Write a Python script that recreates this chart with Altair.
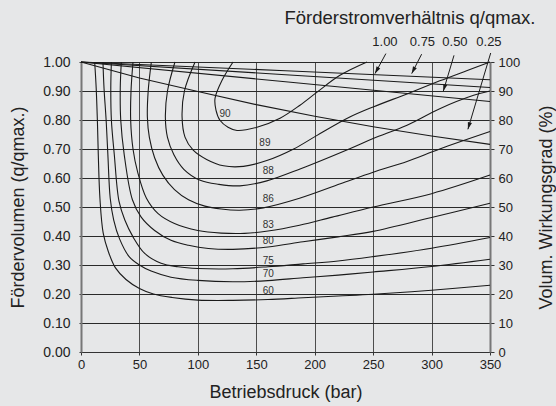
import math
import altair as alt
import pandas as pd

FONT = "Liberation Sans"
INK = "#1a1a1a"
BG = "#e6e7e8"
W, H = 409, 290

# Iso-efficiency contours (total efficiency in %): pressure in bar, flow as q/qmax
eta60_p = [11.7, 13.0, 14.0, 14.8, 16.2, 19.0, 23.5, 29.5, 38.5, 50.0, 62.0, 78.0, 100, 130, 160, 190, 220, 250, 300, 350]
eta60_q = [1.0, 0.91, 0.80, 0.68, 0.53, 0.41, 0.345, 0.29, 0.25, 0.219, 0.20, 0.188, 0.179, 0.178, 0.181, 0.187, 0.193, 0.199, 0.213, 0.23]

eta70_p = [18.8, 19.7, 21.5, 23.0, 25.0, 28.0, 33.0, 41.0, 50.0, 60.0, 77.0, 100, 130, 160, 190, 220, 250, 300, 350]
eta70_q = [1.0, 0.91, 0.80, 0.68, 0.53, 0.455, 0.39, 0.33, 0.30, 0.279, 0.258, 0.247, 0.242, 0.246, 0.256, 0.265, 0.276, 0.295, 0.32]

eta75_p = [26.0, 25.5, 26.0, 28.5, 32.5, 37.5, 44.5, 54.5, 68.5, 83.0, 100, 130, 160, 190, 220, 250, 300, 350]
eta75_q = [1.0, 0.91, 0.80, 0.68, 0.52, 0.455, 0.397, 0.34, 0.306, 0.294, 0.288, 0.287, 0.294, 0.304, 0.314, 0.329, 0.358, 0.395]

eta80_p = [34.5, 33.6, 34.0, 37.0, 44.0, 51.5, 63.0, 77.0, 92.0, 109, 130, 160, 190, 220, 250, 300, 350]
eta80_q = [1.0, 0.91, 0.80, 0.68, 0.525, 0.465, 0.419, 0.385, 0.368, 0.357, 0.354, 0.362, 0.38, 0.397, 0.416, 0.464, 0.513]

eta83_p = [44.5, 42.8, 42.5, 44.5, 48.5, 56.0, 66.0, 80.0, 100, 120, 140, 160, 187, 215, 250, 300, 350]
eta83_q = [1.0, 0.90, 0.80, 0.70, 0.62, 0.53, 0.477, 0.443, 0.419, 0.41, 0.409, 0.417, 0.437, 0.465, 0.50, 0.546, 0.61]

eta86_p = [60.2, 57.5, 56.8, 58.5, 63.0, 70.0, 80.0, 92.0, 106, 120, 136, 156, 187, 222, 250, 279, 307, 350]
eta86_q = [1.0, 0.90, 0.81, 0.74, 0.67, 0.61, 0.56, 0.525, 0.503, 0.493, 0.489, 0.497, 0.53, 0.58, 0.62, 0.657, 0.70, 0.76]

eta88_p = [80.4, 74.0, 72.2, 74.0, 79.5, 88.0, 102, 118, 136, 159, 188, 230, 250, 279, 307, 336, 350]
eta88_q = [1.0, 0.90, 0.81, 0.74, 0.68, 0.63, 0.592, 0.578, 0.573, 0.59, 0.632, 0.701, 0.736, 0.782, 0.839, 0.885, 0.90]

eta89_p = [97.6, 88.5, 86.5, 89.0, 96.0, 107.5, 122, 139, 159, 182, 202, 230, 250, 279, 307, 330, 350]
eta89_q = [1.0, 0.90, 0.81, 0.741, 0.696, 0.664, 0.642, 0.64, 0.66, 0.70, 0.747, 0.81, 0.845, 0.89, 0.935, 0.97, 1.0]

eta90_p = [130.1, 120.7, 114.7, 115.5, 118.9, 125.8, 133.5, 150.6, 170.3, 187.4, 202, 221.6, 244.7]
eta90_q = [1.0, 0.937, 0.875, 0.834, 0.799, 0.775, 0.764, 0.775, 0.806, 0.851, 0.896, 0.954, 1.0]

# Contour label anchors
label_text = ["90", "89", "88", "86", "83", "80", "75", "70", "60"]
label_p = [123.3, 157.4, 160.3, 160.3, 160.3, 160.3, 160.3, 160.3, 160.3]
label_q = [0.819, 0.719, 0.623, 0.526, 0.439, 0.383, 0.314, 0.268, 0.212]

# Volumetric efficiency (%) for each flow ratio q/qmax
vol_p = [0, 175, 350]
vol_100 = [100, 97.0, 93.9]
vol_075 = [100, 95.6, 91.2]
vol_050 = [100, 93.2, 86.4]
vol25_p = [0, 50, 100, 150, 200, 250, 300, 350]
vol_025 = [100, 94.5, 89.8, 85.3, 81.3, 77.7, 74.5, 71.6]

# Legend arrows pointing at the volumetric efficiency lines
arrow_label = ["1.00", "0.75", "0.50", "0.25"]
arrow_label_p = [260.1, 292.2, 320.0, 349.1]
arrow_label_q = [1.068, 1.068, 1.068, 1.068]
arrow_tail_p = [260.9, 291.5, 319.2, 350.6]
arrow_tail_q = [1.029, 1.027, 1.023, 1.031]
arrow_tip_p = [251.6, 283.0, 310.0, 331.1]
arrow_tip_q = [0.960, 0.960, 0.899, 0.768]

header_text = ["Förderstromverhältnis q/qmax."]
header_p = [281.5]
header_q = [1.151]

contours = [
    ("60", eta60_p, eta60_q), ("70", eta70_p, eta70_q), ("75", eta75_p, eta75_q),
    ("80", eta80_p, eta80_q), ("83", eta83_p, eta83_q), ("86", eta86_p, eta86_q),
    ("88", eta88_p, eta88_q), ("89", eta89_p, eta89_q), ("90", eta90_p, eta90_q),
]
rows = []
for level, ps, qs in contours:
    for i, (p, q) in enumerate(zip(ps, qs)):
        rows.append({"level": level, "i": i, "p": p, "q": q})
contour_df = pd.DataFrame(rows)

vol_rows = []
for name, ps, vs in [("1.00", vol_p, vol_100), ("0.75", vol_p, vol_075),
                     ("0.50", vol_p, vol_050), ("0.25", vol25_p, vol_025)]:
    for i, (p, v) in enumerate(zip(ps, vs)):
        vol_rows.append({"ratio": name, "i": i, "p": p, "eta": v})
vol_df = pd.DataFrame(vol_rows)

labels_df = pd.DataFrame({"p": label_p, "q": label_q, "t": label_text})
header_df = pd.DataFrame({"p": header_p, "q": header_q, "t": header_text})
arrow_text_df = pd.DataFrame({"p": arrow_label_p, "q": arrow_label_q, "t": arrow_label})

# arrowhead rotation from the shaft direction in screen space
kx, ky = W / 350.0, H / 1.0
angles = []
for tp, tq, hp, hq in zip(arrow_tail_p, arrow_tail_q, arrow_tip_p, arrow_tip_q):
    dx = (hp - tp) * kx
    dy = -(hq - tq) * ky
    angles.append(math.degrees(math.atan2(dx, -dy)) % 360)
arrow_df = pd.DataFrame({"p": arrow_tail_p, "q": arrow_tail_q,
                         "p2": arrow_tip_p, "q2": arrow_tip_q, "ang": angles})

x_axis = alt.Axis(
    values=list(range(0, 351, 50)), title="Betriebsdruck (bar)",
    grid=True, gridColor="#4d4d4d", gridWidth=1,
    tickSize=3, tickColor="#333333", domainColor="#333333", domainWidth=1,
    labelFont=FONT, labelFontSize=13, labelColor="#222222", labelPadding=3,
    labelFlush=False, labelOverlap=False,
    titleFont=FONT, titleFontSize=18, titleFontWeight="normal", titleColor="#222222",
    titleX=W / 2, titleY=40, titleBaseline="middle", titleAlign="center",
)
y_axis = alt.Axis(
    orient="left", values=[i / 10 for i in range(11)], format=".2f",
    title="Fördervolumen (q/qmax.)",
    grid=True, gridColor="#2a2a2a", gridWidth=1,
    tickSize=2, tickColor="#333333", domainColor="#777777", domainWidth=2,
    labelFont=FONT, labelFontSize=14, labelColor="#222222", labelPadding=9,
    labelOverlap=False,
    titleFont=FONT, titleFontSize=18, titleFontWeight="normal", titleColor="#222222",
    titleX=-63, titleY=H / 2, titleAngle=270, titleBaseline="middle", titleAlign="center",
)
y2_axis = alt.Axis(
    orient="right", values=list(range(0, 101, 10)), title="Volum. Wirkungsgrad (%)",
    grid=False, tickSize=4, tickColor="#333333", domainColor="#777777", domainWidth=2,
    labelFont=FONT, labelFontSize=13, labelColor="#222222", labelPadding=4,
    labelOverlap=False,
    titleFont=FONT, titleFontSize=18, titleFontWeight="normal", titleColor="#222222",
    titleX=56, titleY=H / 2, titleAngle=270, titleBaseline="middle", titleAlign="center",
)

x_enc = alt.X("p:Q", scale=alt.Scale(domain=[0, 350], nice=False, zero=False), axis=x_axis)
y_enc = alt.Y("q:Q", scale=alt.Scale(domain=[0, 1], nice=False), axis=y_axis)

contour_lines = alt.Chart(contour_df).mark_line(
    interpolate="catmull-rom", color=INK, strokeWidth=1.1
).encode(x=x_enc, y=y_enc, detail="level:N", order="i:Q")

contour_labels = alt.Chart(labels_df).mark_text(
    font=FONT, fontSize=10, color="#333333", align="center", baseline="middle"
).encode(x=x_enc, y=y_enc, text="t:N")

header = alt.Chart(header_df).mark_text(
    font=FONT, fontSize=18.5, color="#222222", align="center", baseline="middle"
).encode(x=x_enc, y=y_enc, text="t:N")

arrow_text = alt.Chart(arrow_text_df).mark_text(
    font=FONT, fontSize=13, color="#222222", align="center", baseline="middle"
).encode(x=x_enc, y=y_enc, text="t:N")

arrow_shafts = alt.Chart(arrow_df).mark_rule(color=INK, strokeWidth=1).encode(
    x=x_enc, y=y_enc, x2="p2:Q", y2="q2:Q"
)
arrow_heads = alt.Chart(arrow_df).mark_point(
    shape="M0,0L-0.3,1L0.3,1Z", filled=True, color=INK, opacity=1, size=200, strokeWidth=0
).encode(
    x=alt.X("p2:Q", scale=alt.Scale(domain=[0, 350], nice=False, zero=False), axis=x_axis),
    y=alt.Y("q2:Q", scale=alt.Scale(domain=[0, 1], nice=False), axis=y_axis),
    angle=alt.Angle("ang:Q", scale=None),
)

vol_lines = alt.Chart(vol_df).mark_line(color=INK, strokeWidth=1.1).encode(
    x=x_enc,
    y=alt.Y("eta:Q", scale=alt.Scale(domain=[0, 100], nice=False), axis=y2_axis),
    detail="ratio:N", order="i:Q",
)

left = alt.layer(contour_lines, contour_labels, header, arrow_text, arrow_shafts, arrow_heads)
right = alt.layer(vol_lines)

chart = alt.layer(left, right).resolve_scale(y="independent").properties(
    width=W, height=H,
    autosize=alt.AutoSizeParams(type="none"),
    padding={"left": 81, "top": 62, "right": 66, "bottom": 54},
    background=BG,
).configure_view(stroke=None)

chart.save("out.html", embed_options={"renderer": "svg", "actions": False})
